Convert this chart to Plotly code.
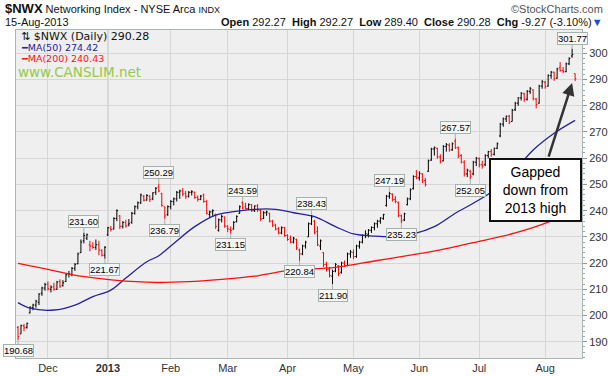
import pandas as pd
import plotly.graph_objects as go

# ---------------- data ----------------
HOLIDAYS = ["2012-11-22", "2012-12-25", "2013-01-01", "2013-01-21",
            "2013-02-18", "2013-03-29", "2013-05-27", "2013-07-04"]
DATES = [d for d in pd.bdate_range("2012-11-16", "2013-08-15")
         if d.strftime("%Y-%m-%d") not in HOLIDAYS]

OPEN = [195.5, 193.0, 196.0, 195.5, 201.0, 203.0, 204.0, 205.0, 208.5, 210.5,
        212.0, 210.0, 211.0, 210.0, 213.0, 211.5, 213.0, 215.8, 215.5, 218.0,
        219.8, 224.0, 228.5, 229.5, 227.0, 226.5, 226.0, 227.0, 224.8, 223.0,
        230.8, 233.3, 233.0, 237.0, 238.0, 234.0, 235.5, 234.5, 235.5, 239.0,
        241.5, 243.0, 245.5, 244.0, 245.5, 244.5, 247.0, 249.0, 246.5, 241.5,
        238.5, 241.5, 243.5, 244.5, 247.0, 247.5, 246.5, 245.5, 247.0, 247.0,
        245.0, 244.3, 246.0, 243.5, 238.5, 239.5, 238.5, 232.5, 236.5, 237.5,
        234.0, 232.8, 233.0, 235.8, 239.0, 243.0, 241.5, 240.8, 242.3, 240.0,
        241.8, 240.0, 237.0, 239.2, 239.0, 236.0, 234.5, 233.0, 231.5, 233.5,
        230.5, 229.5, 228.0, 229.0, 225.0, 223.5, 226.5, 230.0, 235.0, 236.0,
        232.0, 226.5, 224.0, 219.5, 217.5, 215.0, 217.0, 219.0, 216.5, 220.0,
        219.0, 223.5, 224.0, 222.5, 226.5, 228.0, 230.5, 231.0, 232.5, 233.5,
        235.0, 236.0, 237.0, 242.0, 245.5, 246.3, 244.2, 243.0, 238.0, 236.5,
        242.3, 244.5, 248.5, 253.0, 252.5, 254.0, 251.5, 255.0, 259.3, 263.5,
        263.8, 260.5, 259.0, 264.5, 265.0, 263.2, 266.5, 264.0, 261.0, 258.5,
        254.0, 255.0, 254.0, 258.5, 259.8, 257.5, 257.5, 261.0, 262.5, 261.5,
        263.8, 268.5, 273.0, 275.0, 276.0, 274.0, 278.5, 281.0, 283.0, 284.5,
        282.5, 285.5, 286.0, 282.5, 281.0, 287.5, 289.0, 287.5, 291.5, 292.8,
        290.5, 294.5, 293.5, 293.0, 296.0, 299.0, 292.27]
HIGH = [196.0, 196.5, 196.8, 197.3, 203.5, 204.5, 206.0, 208.5, 211.0, 212.5,
        213.0, 211.5, 212.5, 213.2, 213.8, 213.5, 216.0, 217.0, 218.5, 220.0,
        224.0, 229.0, 231.6, 231.3, 228.5, 228.0, 229.0, 228.5, 225.3, 226.5,
        233.8, 234.2, 237.5, 240.5, 238.3, 236.0, 236.5, 236.8, 239.5, 242.0,
        243.5, 246.5, 246.0, 246.3, 246.0, 247.0, 249.0, 250.29, 246.8, 241.5,
        242.0, 244.0, 245.0, 247.5, 248.0, 248.6, 247.5, 247.5, 247.8, 247.3,
        245.8, 246.0, 246.5, 244.0, 240.0, 240.5, 238.8, 237.0, 238.5, 237.8,
        234.5, 234.0, 236.0, 238.2, 242.0, 243.59, 243.0, 242.8, 242.5, 242.0,
        242.5, 240.5, 239.8, 240.0, 239.2, 236.5, 235.0, 233.8, 234.0, 233.8,
        231.0, 230.5, 230.0, 229.3, 225.5, 227.0, 228.5, 235.5, 238.43, 236.5,
        234.0, 229.0, 224.2, 220.5, 218.5, 217.5, 220.0, 219.2, 220.5, 221.0,
        224.0, 225.0, 225.2, 227.0, 228.5, 231.0, 232.5, 233.0, 234.0, 235.5,
        236.5, 237.5, 238.8, 246.0, 247.19, 246.6, 245.5, 243.5, 238.5, 239.2,
        245.0, 248.5, 253.5, 255.5, 255.0, 254.3, 252.5, 259.5, 264.0, 264.5,
        264.0, 261.5, 265.0, 265.8, 265.7, 266.0, 267.57, 264.5, 261.5, 259.2,
        256.0, 255.6, 259.0, 260.5, 260.3, 259.0, 261.5, 262.8, 263.5, 264.0,
        266.0, 273.5, 275.5, 276.3, 276.5, 278.8, 281.5, 283.3, 285.2, 285.0,
        286.0, 287.2, 286.3, 283.0, 288.0, 289.8, 289.5, 292.0, 293.3, 293.0,
        294.5, 296.7, 294.8, 296.5, 298.5, 301.77, 292.27]
LOW = [190.68, 193.0, 194.0, 195.0, 200.8, 202.0, 203.0, 204.0, 207.5, 209.5,
       209.5, 208.8, 209.5, 209.8, 210.5, 211.0, 212.8, 214.5, 215.0, 217.0,
       219.5, 223.8, 227.5, 228.8, 224.5, 225.5, 225.0, 223.0, 222.5, 221.67,
       230.3, 232.0, 232.8, 236.0, 233.0, 233.2, 233.5, 234.0, 235.0, 238.5,
       240.5, 242.5, 243.5, 243.8, 243.3, 244.0, 246.0, 247.0, 241.5, 236.79,
       238.0, 240.5, 242.0, 243.5, 244.5, 245.5, 244.5, 245.0, 245.8, 244.5,
       243.5, 244.0, 243.0, 238.5, 237.5, 238.0, 233.0, 232.0, 235.5, 233.5,
       231.8, 231.15, 232.8, 235.5, 238.8, 240.5, 240.5, 240.2, 239.5, 239.5,
       239.5, 236.0, 236.8, 238.0, 235.5, 233.8, 232.5, 231.0, 231.0, 230.0,
       228.5, 227.5, 227.5, 225.0, 220.84, 223.0, 225.5, 230.0, 234.5, 231.0,
       226.5, 225.0, 218.5, 216.8, 214.5, 211.9, 216.5, 215.0, 216.0, 218.5,
       218.8, 222.0, 221.5, 222.0, 225.5, 227.5, 229.5, 229.8, 231.5, 232.5,
       233.5, 235.0, 236.5, 241.5, 244.5, 243.5, 242.8, 237.5, 235.23, 236.0,
       242.0, 244.0, 248.0, 252.0, 251.5, 250.5, 249.2, 254.8, 259.0, 261.0,
       259.8, 258.0, 258.8, 262.5, 262.5, 262.8, 263.5, 260.0, 258.0, 253.0,
       252.8, 252.05, 253.5, 257.0, 256.5, 256.0, 257.0, 260.0, 260.5, 261.0,
       263.5, 268.0, 272.0, 273.8, 273.0, 274.0, 278.0, 280.0, 282.0, 281.5,
       282.0, 284.5, 282.0, 279.0, 280.8, 286.5, 286.5, 287.3, 290.3, 289.5,
       290.3, 293.0, 292.5, 292.8, 295.5, 298.3, 289.40]
CLOSE = [192.0, 196.2, 195.3, 197.0, 203.2, 204.0, 205.5, 208.2, 210.5, 211.8,
         210.2, 210.8, 210.0, 212.8, 211.2, 212.5, 215.5, 215.8, 218.0, 219.5,
         223.5, 228.0, 230.5, 230.8, 226.5, 226.0, 227.0, 225.0, 223.0, 226.0,
         233.5, 232.8, 237.0, 240.0, 234.0, 235.5, 234.2, 235.0, 239.0, 241.5,
         243.0, 246.0, 244.0, 245.8, 244.2, 246.8, 248.5, 247.5, 242.0, 238.0,
         241.5, 243.5, 244.5, 247.0, 247.5, 246.3, 245.5, 247.0, 247.2, 245.0,
         244.3, 245.5, 243.5, 239.0, 239.5, 240.0, 234.0, 236.5, 237.8, 234.2,
         233.0, 232.5, 235.5, 237.8, 241.5, 241.0, 240.8, 242.3, 240.0, 241.8,
         240.5, 236.8, 239.2, 239.5, 236.0, 234.5, 233.0, 231.5, 233.5, 230.5,
         229.0, 228.0, 229.5, 225.8, 223.5, 226.5, 228.0, 235.0, 237.5, 231.5,
         227.0, 228.5, 219.5, 217.5, 215.3, 216.8, 219.5, 216.0, 220.0, 219.0,
         223.5, 224.2, 222.5, 226.5, 228.0, 230.5, 231.2, 232.5, 233.6, 235.0,
         236.0, 237.2, 238.5, 245.5, 246.5, 244.2, 243.5, 238.2, 236.2, 238.8,
         244.5, 248.0, 253.0, 252.5, 254.3, 251.3, 250.0, 259.0, 263.5, 264.0,
         260.5, 258.6, 264.5, 265.2, 263.2, 265.5, 264.0, 260.8, 258.5, 254.0,
         255.5, 253.0, 258.5, 260.0, 257.5, 257.0, 261.0, 262.5, 261.5, 263.8,
         265.5, 273.0, 275.0, 276.0, 273.8, 278.3, 281.0, 283.0, 284.8, 282.5,
         285.5, 286.5, 282.8, 280.5, 287.5, 289.2, 287.3, 291.5, 292.8, 290.3,
         294.0, 293.4, 293.0, 296.0, 298.0, 299.55, 290.28]

# moving averages at selected bars (bar index, value)
MA50_IDX = [0, 4, 12, 19, 25, 31, 36, 43, 47, 52, 59, 66, 72, 79, 86, 92, 99,
            106, 112, 119, 126, 132, 139, 146, 152, 159, 166, 172, 179, 186]
MA50_VAL = [204.9, 202.8, 202.1, 204.0, 207.2, 209.7, 214.3, 220.5, 222.8, 227.5,
            233.9, 238.3, 239.6, 240.5, 240.5, 239.2, 237.7, 233.9, 231.1, 230.3,
            230.1, 231.1, 233.9, 239.0, 242.8, 247.9, 255.5, 263.1, 269.5, 274.42]
MA200_IDX = [0, 10, 21, 32, 46, 57, 68, 79, 90, 106, 119, 132, 141, 152, 166, 177, 186]
MA200_VAL = [219.9, 217.6, 215.0, 213.5, 212.6, 212.9, 213.8, 215.0, 217.1, 218.4,
             220.8, 223.2, 225.0, 227.8, 231.5, 235.6, 240.43]

# labelled swing points: (bar index, value, 'h' above / 'l' below)
SWINGS = [(0, 190.68, "l"), (22, 231.60, "h"), (29, 221.67, "l"), (47, 250.29, "h"),
          (49, 236.79, "l"), (71, 231.15, "l"), (75, 243.59, "h"), (94, 220.84, "l"),
          (98, 238.43, "h"), (105, 211.90, "l"), (124, 247.19, "h"), (128, 235.23, "l"),
          (146, 267.57, "h"), (151, 252.05, "l"), (185, 301.77, "h")]

MONTH_LABELS = ["Dec", "<b>2013</b>", "Feb", "Mar", "Apr", "May", "Jun", "Jul", "Aug"]

# ---------------- figure ----------------
n = len(CLOSE)
idx = list(range(n))
prev = [OPEN[0]] + CLOSE[:-1]
up = [i for i in idx if CLOSE[i] >= prev[i]]
dn = [i for i in idx if CLOSE[i] < prev[i]]

fig = go.Figure()
for sel, col in ((up, "#000000"), (dn, "#ff0000")):
    fig.add_trace(go.Ohlc(
        x=sel, open=[OPEN[i] for i in sel], high=[HIGH[i] for i in sel],
        low=[LOW[i] for i in sel], close=[CLOSE[i] for i in sel],
        increasing=dict(line=dict(color=col, width=1)),
        decreasing=dict(line=dict(color=col, width=1)),
        tickwidth=0.4, hoverinfo="skip"))

fig.add_trace(go.Scatter(x=MA50_IDX, y=MA50_VAL, mode="lines",
                         line=dict(color="#23239b", width=1.3, shape="spline"),
                         hoverinfo="skip"))
fig.add_trace(go.Scatter(x=MA200_IDX, y=MA200_VAL, mode="lines",
                         line=dict(color="#ff1010", width=1.3, shape="spline"),
                         hoverinfo="skip"))

# month ticks: first trading day of each month from December
month_idx = []
seen = set()
for i, d in enumerate(DATES[:n]):
    key = (d.year, d.month)
    if key not in seen:
        seen.add(key)
        month_idx.append(i)
month_idx = month_idx[1:1 + len(MONTH_LABELS)]

W, H = 611, 376
ML, MR, MT, MB = 16, 29, 30, 18
PW, PH = W - ML - MR, H - MT - MB


def px(xp):
    return (xp - ML) / PW


def py(yp):
    return (H - MB - yp) / PH


ann = []
for i, v, kind in SWINGS:
    off = -11 if kind == "h" else 11
    if v > 300:
        off = -10
    ann.append(dict(x=i, y=v, xref="x", yref="y", text=f"{v:.2f}",
                    showarrow=True, arrowhead=0, arrowwidth=1, arrowcolor="#a4b2ac",
                    ax=0, ay=off, standoff=0,
                    font=dict(family="Liberation Sans, Arial", size=9.5, color="#000"),
                    bgcolor="#f6f6f6", bordercolor="#a4b2ac", borderwidth=1, borderpad=0))

# Callout box and arrow
ann.append(dict(x=185, y=288.7, xref="x", yref="y", ax=177, ay=260, axref="x", ayref="y",
                text="", showarrow=True, arrowhead=2, arrowsize=1, arrowwidth=2.5,
                arrowcolor="#333333", standoff=0))
ann.append(dict(x=172.8, y=247.8, xref="x", yref="y", showarrow=False,
                text="Gapped<br>down from<br>2013 high",
                font=dict(family="Liberation Sans, Arial", size=14, color="#000"),
                bgcolor="#ffffff", bordercolor="#111111", borderwidth=2, borderpad=0,
                width=89, height=60, align="center"))

# header
ann.append(dict(x=px(3), y=py(8.5), xref="paper", yref="paper", xanchor="left", yanchor="middle",
                showarrow=False, align="left",
                text='<b><span style="font-size:13px">$NWX</span></b> Networking Index - NYSE Arca '
                     '<span style="font-size:9px">INDX</span>',
                font=dict(family="Liberation Sans, Arial", size=11, color="#111")))
ann.append(dict(x=px(605), y=py(8.5), xref="paper", yref="paper", xanchor="right", yanchor="middle",
                showarrow=False, text="©StockCharts.com",
                font=dict(family="Liberation Sans, Arial", size=11, color="#555")))
ann.append(dict(x=px(3), y=py(21.5), xref="paper", yref="paper", xanchor="left", yanchor="middle",
                showarrow=False, text="15-Aug-2013",
                font=dict(family="Liberation Sans, Arial", size=11, color="#111")))
ann.append(dict(x=px(605), y=py(21.5), xref="paper", yref="paper", xanchor="right", yanchor="middle",
                showarrow=False,
                text='<b>Open</b> 292.27  <b>High</b> 292.27  <b>Low</b> 289.40  '
                     '<b>Close</b> 290.28  <b>Chg</b> -9.27 (-3.10%)'
                     '<span style="color:#1a4fd0">▼</span>',
                font=dict(family="Liberation Sans, Arial", size=11, color="#111")))

# in-plot legend
ann.append(dict(x=px(19), y=py(36), xref="paper", yref="paper", xanchor="left", yanchor="middle",
                showarrow=False, text="⇅ $NWX (Daily) 290.28",
                font=dict(family="DejaVu Sans", size=11, color="#111")))
ann.append(dict(x=px(19), y=py(47.5), xref="paper", yref="paper", xanchor="left", yanchor="middle",
                showarrow=False, text="━MA(50) 274.42",
                font=dict(family="DejaVu Sans", size=9.5, color="#23239b")))
ann.append(dict(x=px(19), y=py(58.5), xref="paper", yref="paper", xanchor="left", yanchor="middle",
                showarrow=False, text="━MA(200) 240.43",
                font=dict(family="DejaVu Sans", size=9.5, color="#ff1010")))
ann.append(dict(x=px(16), y=py(72), xref="paper", yref="paper", xanchor="left", yanchor="middle",
                showarrow=False, text="www.CANSLIM.net",
                font=dict(family="DejaVu Sans", size=13.5, color="#93c94c")))

shapes = [dict(type="line", xref="x", yref="paper", x0=month_idx[1], x1=month_idx[1],
               y0=0, y1=1, line=dict(color="#b4b4b4", width=1), layer="below")]

fig.update_layout(
    width=W, height=H, margin=dict(l=ML, r=MR, t=MT, b=MB, autoexpand=False),
    paper_bgcolor="#ffffff", plot_bgcolor="#efefef", showlegend=False,
    font=dict(family="Liberation Sans, Arial", size=11, color="#333"),
    annotations=ann, shapes=shapes, hovermode=False,
    xaxis=dict(range=[-0.67, 188.3], tickmode="array", tickvals=month_idx,
               ticktext=MONTH_LABELS, showgrid=True, gridcolor="#d6d6d6", gridwidth=1,
               zeroline=False, showline=True, linecolor="#a9b6b1", mirror=True,
               ticks="", tickfont=dict(size=11, color="#333"), automargin=False,
               rangeslider=dict(visible=False)),
    yaxis=dict(range=[183.8, 308.9], side="right", tick0=190, dtick=10,
               showgrid=True, gridcolor="#d6d6d6", gridwidth=1, zeroline=False,
               showline=True, linecolor="#a9b6b1", mirror=True, automargin=False,
               ticks="outside", ticklen=4, tickcolor="#8a9a95",
               minor=dict(dtick=2, ticks="outside", ticklen=2, tickcolor="#9aa8a3", showgrid=False),
               tickfont=dict(size=11, color="#333")),
)

fig.write_html("out.html", config={"displayModeBar": False, "staticPlot": True},
               post_script="document.body.style.margin='0px';document.body.style.padding='0px';")
